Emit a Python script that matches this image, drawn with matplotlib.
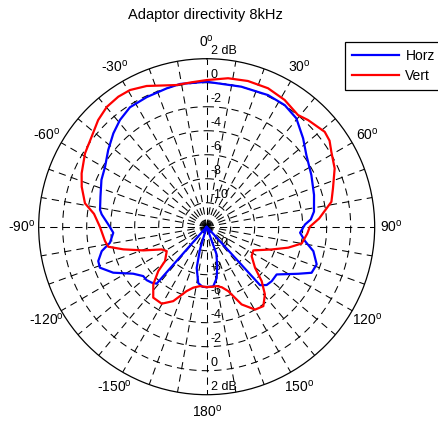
import numpy as np
import matplotlib
matplotlib.use('Agg')
import matplotlib.pyplot as plt
import matplotlib.transforms as mtransforms

plt.rcParams['font.family'] = ['Liberation Sans', 'DejaVu Sans']
plt.rcParams['mathtext.fontset'] = 'custom'
plt.rcParams['mathtext.rm'] = 'Liberation Sans'

# Horz (blue): angle in degrees (clockwise from front), level in dB
horz_ang = [-180, -176, -171.5, -166.4, -163.5, -161, -141, -138.7, -135.5, -131.6,
            -127.9, -122.6, -116.2, -111, -107.6, -103.1, -99.4, -93.7, -88.7, -83.3,
            -81, -74.2, -66, -59.5, -52.1, -45, -39.1, -32.7, -24.8, -16.1,
            -10.5, 0, 13.9, 25, 32.7, 39.6, 47.5, 54.3, 63.7, 73.5,
            82, 86, 88.7, 93.7, 98.3, 102.9, 108.9, 113.7, 117.2, 124.3,
            129.9, 134.2, 137.6, 139.5, 157, 160.3, 165, 169, 173.7, 180]
horz_db = [-6.97, -6.98, -7.25, -8.46, -10.0, -12, -12, -5.68, -5.46, -5.3,
           -5.3, -4.73, -3.32, -2.47, -2.52, -3.02, -3.83, -4.2, -3.8, -3.19,
           -3.0, -2.8, -2.4, -2.17, -1.6, -1.0, -0.54, -0.17, -0.1, 0.0,
           0.1, 0.08, 0.02, 0.1, 0.04, -0.28, -1.1, -1.77, -2.27, -2.67,
           -2.97, -3.3, -3.8, -4.2, -3.72, -2.88, -2.31, -2.45, -3.42, -4.94,
           -4.93, -5.03, -5.4, -12, -12, -9.6, -8.6, -7.64, -7.0, -6.97]

# Vert (red)
vert_ang = [-180, -173.6, -167.6, -162.7, -155.8, -149.7, -143, -137.2, -132.5, -129.5,
            -121.4, -116.8, -110.5, -105.2, -101.5, -98, -90, -83.5, -79.1, -72.3,
            -66.9, -58.9, -52, -45.5, -39.8, -34.2, -29.3, -23.1, -12, -6,
            0, 8.2, 15.8, 23.9, 31.6, 39.3, 43.5, 51.2, 55, 59,
            65.5, 73.1, 78.7, 85.8, 90, 94, 100, 104.4, 109.3, 116.9,
            123.2, 130.3, 134.7, 139.3, 144.5, 149.7, 155.8, 161.5, 166, 170.4,
            175, 180]
vert_db = [-6.97, -7.02, -6.8, -6.38, -5.2, -4.57, -4.6, -5.45, -6.53, -7.5,
           -8.1, -7.8, -6.36, -4.8, -3.63, -3.44, -3.1, -2.55, -1.67, -1.07,
           -0.67, -0.16, 0.17, 0.68, 1.0, 1.1, 1.06, 0.75, 0.07, 0.1,
           0.22, 0.5, 0.62, 0.62, 0.4, 0.02, 0.26, 0.62, 0.5, 0.12,
           -0.28, -1.0, -1.4, -2.6, -3.4, -3.6, -3.96, -4.98, -6.26, -7.64,
           -7.52, -6.72, -5.55, -4.56, -3.87, -4.0, -4.9, -6.34, -6.8, -6.98,
           -6.97, -6.97]

db_min, db_max = -12, 2
ring_db = [-10, -8, -6, -4, -2, 0, 2]
ring_labels = ['-10', '-8', '-6', '-4', '-2', '0', '2 dB']
angle_ticks = [0, 30, 60, 90, 120, 150, 180, -150, -120, -90, -60, -30]

fig = plt.figure(figsize=(4.39, 4.23), dpi=100)
ax = fig.add_axes([0.0881, 0.0669, 0.7654, 0.7943], projection='polar')
ax.set_theta_zero_location('N')
ax.set_theta_direction(-1)
ax.set_ylim(db_min, db_max)
ax.grid(False)
ax.set_xticks([])
ax.set_yticks([])
ax.spines['polar'].set_linewidth(0.9)
ax.spines['polar'].set_color('k')

dash = (0, (7, 5))
# spokes every 10 degrees
for a in range(0, 360, 10):
    ax.plot([np.deg2rad(a)] * 2, [db_min, db_max], color='k', lw=0.75,
            ls=dash, zorder=1)
# dashed rings
circ = np.linspace(0, 2 * np.pi, 361)
for r in ring_db[:-1]:
    ax.plot(circ, np.full_like(circ, r), color='k', lw=0.75, ls=dash, zorder=1)

# radial labels above the front and back spokes
lab_tr = mtransforms.offset_copy(ax.transData, fig=fig, x=3.0, y=3.3, units='points')
for r, s in zip(ring_db, ring_labels):
    for th in (0, np.pi):
        ax.text(th, r, s, transform=lab_tr, ha='left', va='baseline',
                fontsize=9, zorder=2)

# angle labels
for a in angle_ticks:
    ax.text(np.deg2rad(a), db_max + 17 / 12, '%d$^{\\mathrm{o}}$' % a,
            ha='center', va='center', fontsize=10, clip_on=False)

l1, = ax.plot(np.deg2rad(horz_ang), horz_db, color=(0, 0, 1), lw=1.6, zorder=5)
l2, = ax.plot(np.deg2rad(vert_ang), vert_db, color=(1, 0, 0), lw=1.6, zorder=5)

fig.text(205.5 / 439, 1 - 15 / 423, 'Adaptor directivity 8kHz',
         ha='center', va='center', fontsize=10.5)

leg = fig.legend([l1, l2], ['Horz', 'Vert'], loc='upper left',
                 bbox_to_anchor=(345 / 439, 1 - 41.7 / 423), frameon=True,
                 fancybox=False, edgecolor='k', framealpha=1, fontsize=10,
                 handlelength=3.4, handletextpad=0.45, borderpad=0.5,
                 labelspacing=0.45, borderaxespad=0)
leg.get_frame().set_linewidth(0.9)

fig.savefig('out.png', dpi=100)
